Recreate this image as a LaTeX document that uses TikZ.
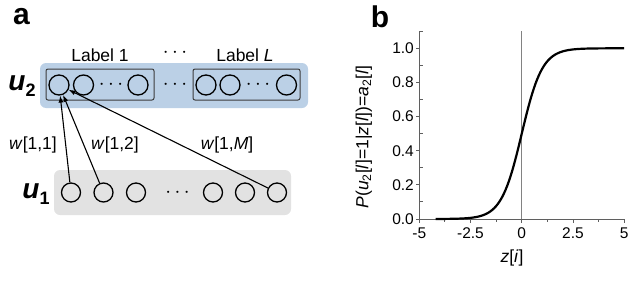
\documentclass[tikz,border=0pt]{standalone}
\usepackage{fontspec}
\setmainfont{Liberation Sans}
\usetikzlibrary{arrows.meta}
\definecolor{boxblue}{RGB}{187,208,230}
\definecolor{boxgray}{RGB}{226,226,226}
\definecolor{framegray}{RGB}{60,60,60}
\definecolor{axgray}{RGB}{95,95,95}
\definecolor{zerogray}{RGB}{130,130,130}
\begin{document}
\begin{tikzpicture}[x=1pt,y=-1pt,
  unitbig/.style={circle,draw,line width=1.3pt,inner sep=0pt,minimum size=20pt},
  unitsm/.style={circle,draw,line width=1.3pt,inner sep=0pt,minimum size=19pt},
  txt/.style={inner sep=0pt,font=\fontsize{17.5}{17.5}\selectfont},
  ticklab/.style={inner sep=0pt,font=\fontsize{15.5}{15.5}\selectfont},
  panel/.style={inner sep=0pt,font=\fontsize{30}{30}\selectfont\bfseries},
  layer/.style={inner sep=0pt,font=\fontsize{28}{28}\selectfont\bfseries\itshape},
  dotsnode/.style={inner sep=0pt,font=\fontsize{21}{21}\selectfont},
  labelbox/.style={draw=framegray,line width=1pt,rounded corners=2pt},
  conn/.style={line width=1.1pt,-{Latex[length=7pt,width=5pt]}},
  axis/.style={draw=axgray,line width=1pt},
]
\useasboundingbox (0,0) rectangle (640,300);

% ---------- panel a ----------
\node[panel] (pa) at (21.5,16.5) {a};

\fill[boxblue,rounded corners=6pt] (40,63) rectangle (308,108);
\fill[boxgray,rounded corners=6pt] (54,170) rectangle (291,215);

\node[txt] (lab1) at (100,55) {Label 1};
\node[dotsnode] (topdots) at (175,53) {$\cdots$};
\node[txt] (labL) at (245,55) {Label \textit{L}};

\draw[labelbox] (46,69) rectangle (154,100);
\draw[labelbox] (193,69) rectangle (300,100);

\node[layer] (u2) at (22,86) {u\raisebox{-0.2em}{\fontsize{18}{18}\selectfont\upshape 2}};
\node[layer] (u1) at (36,194) {u\raisebox{-0.2em}{\fontsize{18}{18}\selectfont\upshape 1}};

\node[unitbig] (a1) at (59,85) {};
\node[unitbig] (a2) at (83.5,85) {};
\node[dotsnode] (ad1) at (111,85) {$\cdots$};
\node[unitbig] (a3) at (138,85) {};
\node[dotsnode] (ad2) at (175,85) {$\cdots$};
\node[unitbig] (a4) at (206,85) {};
\node[unitbig] (a5) at (230,85) {};
\node[dotsnode] (ad3) at (258,85) {$\cdots$};
\node[unitbig] (a6) at (286.5,85) {};

\node[unitsm] (b1) at (71,192.5) {};
\node[unitsm] (b2) at (103.5,192.5) {};
\node[unitsm] (b3) at (136,192.5) {};
\node[dotsnode] (bd) at (177.5,192.5) {$\cdots$};
\node[unitsm] (b4) at (213,192.5) {};
\node[unitsm] (b5) at (245,192.5) {};
\node[unitsm] (b6) at (277,192.5) {};

\draw[conn] (b1) -- (a1);
\draw[conn] (b2) -- (a1);
\draw[conn] (b6) -- (a1);

\node[txt] (w11) at (33,145) {\textit{w}[1,1]};
\node[txt] (w12) at (115,145) {\textit{w}[1,2]};
\node[txt] (w1M) at (227,145) {\textit{w}[1,\textit{M}]};

% ---------- panel b ----------
\node[panel] (pb) at (380,17) {b};

\coordinate (org) at (419.5,219);
\coordinate (ytop) at (419.5,31);
\coordinate (xend) at (624.5,219);
\coordinate (zbot) at (521.75,219);
\coordinate (ztop) at (521.75,31);

\draw[zerogray,line width=1pt] (zbot) -- (ztop);
\draw[axis] (ytop) -- (org) -- (xend);

% x ticks
\foreach \z in {-5,-2.5,0,2.5,5}
  \draw[axgray,line width=1pt] ({521.75+20.5*\z},219) -- ++(0,4);
\foreach \z in {-3.75,-1.25,1.25,3.75}
  \draw[axgray,line width=1pt] ({521.75+20.5*\z},219) -- ++(0,2.5);
% y ticks
\foreach \p in {0,0.2,0.4,0.6,0.8,1.0}
  \draw[axgray,line width=1pt] (419.5,{219-170.7*\p}) -- ++(-4,0);
\foreach \p in {0.1,0.3,0.5,0.7,0.9,1.1}
  \draw[axgray,line width=1pt] (419.5,{219-170.7*\p}) -- ++(3,0);

\foreach \z/\t [count=\i] in {-5/-5,-2.5/-2.5,0/0,2.5/2.5,5/5}
  \node[ticklab] (xt\i) at ({521.75+20.5*\z},233) {\t};
\foreach \p/\t [count=\i] in {0/0.0,0.2/0.2,0.4/0.4,0.6/0.6,0.8/0.8,1.0/1.0}
  \node[ticklab,anchor=east] (yt\i) at (414,{219-170.7*\p}) {\t};

\draw[black,line width=2.2pt,line join=round] plot[domain=-4.2:5,samples=120,smooth]
  ({521.75+20.5*\x},{219-170.7/(1+exp(-2*\x))});

\node[txt] (xlab) at (512,258) {\textit{z}[\textit{i}]};
\node[txt,rotate=90] (ylab) at (364,137)
  {\textit{P}(\textit{u}\textsubscript{2}[\textit{l}]=1|\textit{z}[\textit{l}])=\textit{a}\textsubscript{2}[\textit{l}]};
\end{tikzpicture}
\end{document}
